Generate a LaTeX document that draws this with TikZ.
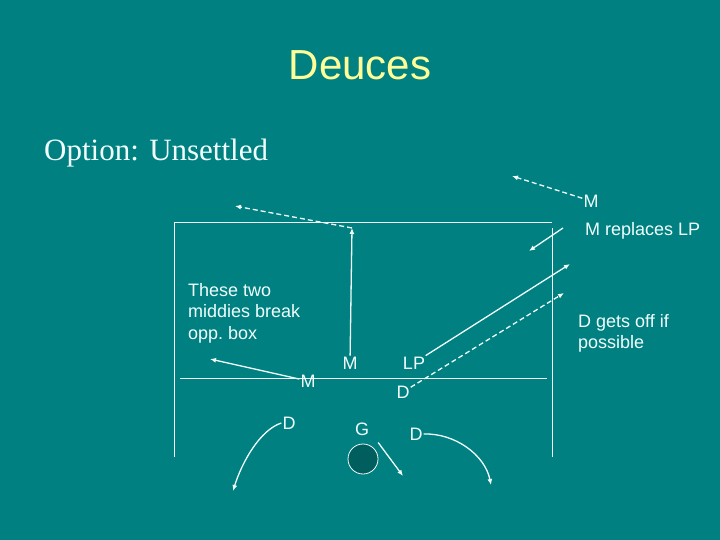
\documentclass[tikz,border=0pt]{standalone}
\usepackage{fontspec}
\setmainfont{Liberation Sans}
\newfontfamily\optfont{Liberation Serif}
\usepackage{xcolor}
\usepackage{tikz}
\usetikzlibrary{arrows.meta}
\definecolor{field}{HTML}{008080}
\definecolor{chalk}{HTML}{F2FFFF}
\definecolor{headline}{HTML}{FFFF99}
\definecolor{crease}{HTML}{005E5E}
\tikzset{
  fieldline/.style={line width=0.9pt, draw=chalk},
  run/.style={-{Latex[length=6pt,width=5pt]}, line width=1.3pt, draw=chalk},
  pass/.style={run, dash pattern=on 5pt off 3pt},
  lab/.style={text=chalk, font=\fontsize{18}{21.5}\selectfont, inner sep=1pt},
  note/.style={lab, align=left, anchor=north west}
}
\begin{document}
\begin{tikzpicture}[x=1pt,y=-1pt]
  \fill[field] (0,0) rectangle (720,540);
  \useasboundingbox (0,0) rectangle (720,540);

  \node[text=headline, font=\fontsize{42}{50}\selectfont, anchor=base] (title) at (360,80) {Deuces};
  \node[text=chalk, font=\optfont\fontsize{31}{37}\selectfont, anchor=base west, inner sep=0pt] (option) at (44,161) {Option: Unsettled};

  % field
  \draw[fieldline] (174,457) -- (174,222) -- (552,222);
  \draw[fieldline] (552,228) -- (552,457);
  \draw[fieldline] (180,378) -- (547,378);
  \node[circle, draw=chalk, fill=crease, line width=0.8pt, minimum size=30pt, inner sep=0pt] (goal) at (363,459) {};

  % players
  \node[lab] (mtop) at (591,201) {M};
  \node[lab, anchor=west] (mrep) at (584,231) {M replaces LP};
  \node[note] (dnote) at (577,313) {D gets off if\\possible};
  \node[note] (mnote) at (187,282) {These two\\middies break\\opp.\ box};
  \node[lab] (mcen) at (350,363) {M};
  \node[lab] (mleft) at (308,381) {M};
  \node[lab] (lp) at (414,363) {LP};
  \node[lab] (dtop) at (403,392) {D};
  \node[lab] (dleft) at (289,423) {D};
  \node[lab] (gk) at (362,429) {G};
  \node[lab] (dright) at (416,434) {D};

  \coordinate (mtopgo) at (512,176);
  \coordinate (mrepgo) at (529,251);
  \coordinate (breakup) at (352,228);
  \coordinate (cross) at (235,206);
  \coordinate (boxl) at (210,359);
  \coordinate (lpgo) at (570,264);
  \coordinate (dgo) at (564,293);
  \coordinate (gkgo) at (403,476);

  % moves
  \draw[pass] (mtop) -- (mtopgo);
  \draw[run] ([shift={(-21,-3)}]mrep.west) -- (mrepgo);
  \draw[run] (mcen) -- (breakup);
  \draw[pass] (breakup) -- (cross);
  \draw[run] (mleft) -- (boxl);
  \draw[run] (lp) -- (lpgo);
  \draw[pass] (dtop) -- (dgo);
  \draw[run] (dleft.west) .. controls (260,430) and (242,462) .. (233,491);
  \draw[run] (dright.east) .. controls (455,433) and (485,455) .. (491,485);
  \draw[run] ([shift={(8,6)}]gk.south east) -- (gkgo);
\end{tikzpicture}
\end{document}
